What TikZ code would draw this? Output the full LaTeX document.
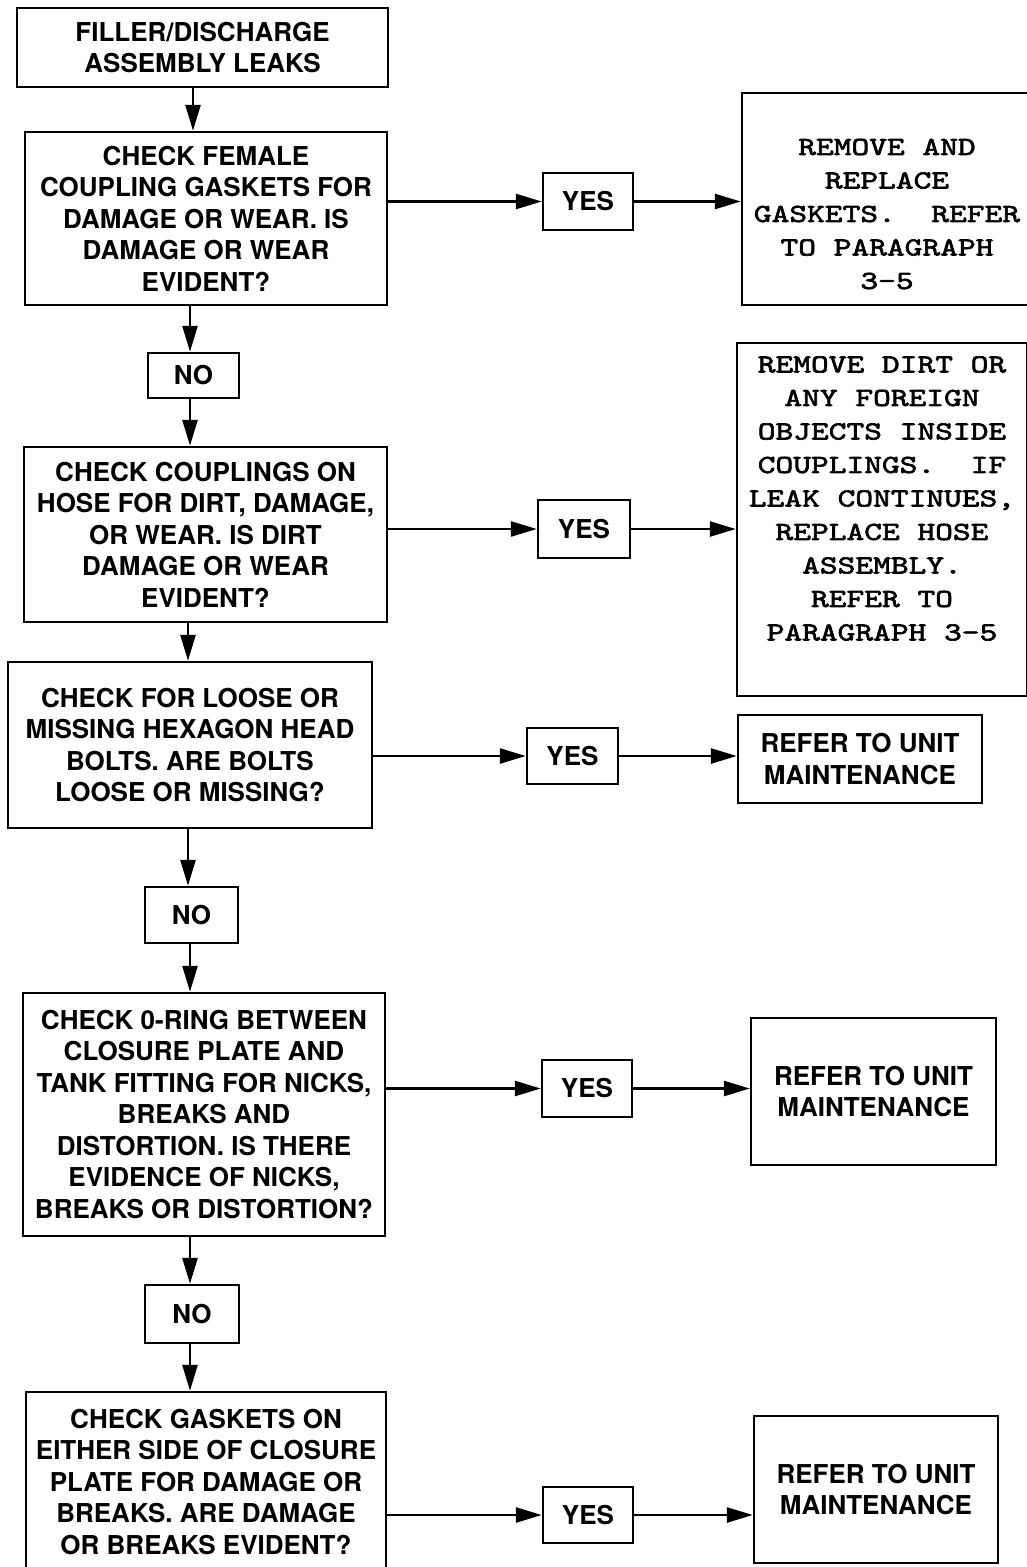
\documentclass[tikz,border=0pt]{standalone}
\usepackage{fontspec}
\setmainfont{TeX Gyre Heros}
\newfontfamily\monof{lmmono10-regular.otf}[FakeStretch=1.3,FakeBold=2.5]
\usetikzlibrary{arrows.meta}
\newcommand\qfont{\fontsize{26}{31.5}\selectfont\bfseries}
\newcommand\mfont{\monof\fontsize{26}{33.5}\selectfont}
\tikzset{
  qbox/.style={draw, line width=2.4pt, inner sep=0pt, align=center, font=\qfont},
  ybox/.style={draw, line width=2.4pt, inner sep=0pt, font=\qfont},
  rbox/.style={draw, line width=2.4pt, inner sep=0pt},
  arr/.style={line width=2.6pt, -{Triangle[length=26pt,width=15pt]}}
}
\begin{document}
\begin{tikzpicture}[x=1pt,y=-1pt]
\useasboundingbox (0,0) rectangle (1026,1567);
% left column
\node[qbox, minimum width=371pt, minimum height=79pt] (b1) at (202.5,47.5) {FILLER/DISCHARGE\\ASSEMBLY LEAKS};
\node[qbox, minimum width=362pt, minimum height=173pt] (b2) at (206,218.5) {CHECK FEMALE\\COUPLING GASKETS FOR\\DAMAGE OR WEAR. IS\\DAMAGE OR WEAR\\EVIDENT?};
\node[ybox, minimum width=91pt, minimum height=45pt] (n1) at (193.5,375.5) {NO};
\node[qbox, minimum width=363pt, minimum height=175pt] (b3) at (205.5,534.5) {CHECK COUPLINGS ON\\HOSE FOR DIRT, DAMAGE,\\OR WEAR. IS DIRT\\DAMAGE OR WEAR\\EVIDENT?};
\node[qbox, minimum width=364pt, minimum height=166pt] (b4) at (190,745) {CHECK FOR LOOSE OR\\MISSING HEXAGON HEAD\\BOLTS. ARE BOLTS\\LOOSE OR MISSING?};
\node[ybox, minimum width=93pt, minimum height=56pt] (n2) at (191.5,915) {NO};
\node[qbox, minimum width=362pt, minimum height=243pt] (b5) at (204,1114.5) {CHECK 0-RING BETWEEN\\CLOSURE PLATE AND\\TANK FITTING FOR NICKS,\\BREAKS AND\\DISTORTION. IS THERE\\EVIDENCE OF NICKS,\\BREAKS OR DISTORTION?};
\node[ybox, minimum width=94pt, minimum height=58pt] (n3) at (192,1314) {NO};
\node[qbox, minimum width=360pt, minimum height=180pt] (b6) at (206,1482) {CHECK GASKETS ON\\EITHER SIDE OF CLOSURE\\PLATE FOR DAMAGE OR\\BREAKS. ARE DAMAGE\\OR BREAKS EVIDENT?};
% yes boxes
\node[ybox, minimum width=90pt, minimum height=57pt] (y1) at (588,201.5) {YES};
\node[ybox, minimum width=92pt, minimum height=58pt] (y2) at (584,529) {YES};
\node[ybox, minimum width=91pt, minimum height=56pt] (y3) at (572.5,756) {YES};
\node[ybox, minimum width=90pt, minimum height=57pt] (y4) at (587,1088.5) {YES};
\node[ybox, minimum width=90pt, minimum height=56pt] (y5) at (588,1515) {YES};
% result boxes
\node[rbox] (r1) at (887,199) {\parbox[c][212pt][c]{290pt}{\centering\mfont\vspace*{30pt}REMOVE AND\\REPLACE\\GASKETS.\ \ REFER\\TO PARAGRAPH\\3-5}};
\node[rbox] (r2) at (882,519.5) {\parbox[c][353pt][c]{290pt}{\centering\mfont REMOVE DIRT OR\\ANY FOREIGN\\OBJECTS INSIDE\\COUPLINGS.\ \ IF\\LEAK CONTINUES,\\REPLACE HOSE\\ASSEMBLY.\\REFER TO\\PARAGRAPH 3-5\par\vspace*{42pt}}};
\node[qbox, minimum width=244pt, minimum height=88pt] (r3) at (860,759) {REFER TO UNIT\\MAINTENANCE};
\node[qbox, minimum width=245pt, minimum height=147pt] (r4) at (873.5,1091.5) {REFER TO UNIT\\MAINTENANCE};
\node[qbox, minimum width=244pt, minimum height=147pt] (r5) at (876,1489.5) {REFER TO UNIT\\MAINTENANCE};
% vertical connectors
\coordinate (v1) at (193,0);
\coordinate (v2) at (190,0);
\coordinate (v3) at (188,0);
\coordinate (v4) at (190,0);
\draw[arr] (b1.south -| v1) -- (b2.north -| v1);
\draw[arr] (b2.south -| v2) -- (n1.north -| v2);
\draw[arr] (n1.south -| v2) -- (b3.north -| v2);
\draw[arr] (b3.south -| v3) -- (b4.north -| v3);
\draw[arr] (b4.south -| v3) -- (n2.north -| v3);
\draw[arr] (n2.south -| v4) -- (b5.north -| v4);
\draw[arr] (b5.south -| v4) -- (n3.north -| v4);
\draw[arr] (n3.south -| v4) -- (b6.north -| v4);
% horizontal connectors
\draw[arr] (b2.east |- y1.west) -- (y1.west);
\draw[arr] (y1.east) -- (r1.west |- y1.east);
\draw[arr] (b3.east |- y2.west) -- (y2.west);
\draw[arr] (y2.east) -- (r2.west |- y2.east);
\draw[arr] (b4.east |- y3.west) -- (y3.west);
\draw[arr] (y3.east) -- (r3.west |- y3.east);
\draw[arr] (b5.east |- y4.west) -- (y4.west);
\draw[arr] (y4.east) -- (r4.west |- y4.east);
\draw[arr] (b6.east |- y5.west) -- (y5.west);
\draw[arr] (y5.east) -- (r5.west |- y5.east);
\end{tikzpicture}
\end{document}
